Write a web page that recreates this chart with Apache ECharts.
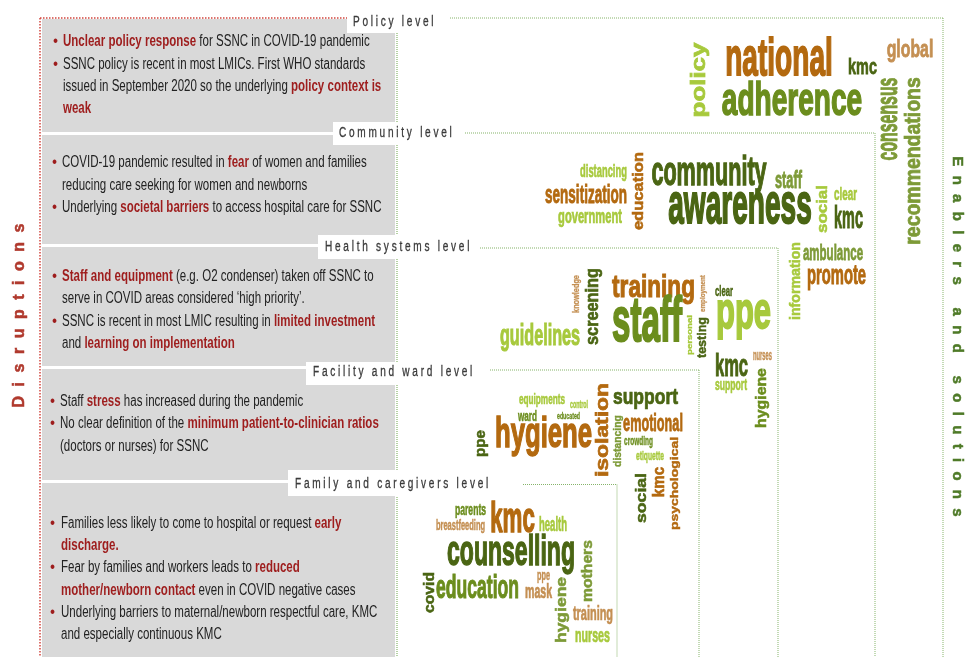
<!DOCTYPE html>
<html><head><meta charset="utf-8">
<script src="https://cdn.jsdelivr.net/npm/echarts@6/dist/echarts.min.js"></script>
<style>html,body{margin:0;padding:0;background:#fff}#c{width:967px;height:657px}</style>
</head><body><div id="c"></div>
<script>
// ---------- DATA ----------
const levelNames = ['Policy level','Community level','Health systems level','Facility and ward level','Family and caregivers level'];

const policyText = [
  '• *Unclear policy response* for SSNC in COVID-19 pandemic',
  '• SSNC policy is recent in most LMICs. First WHO standards',
  'issued in September 2020 so the underlying *policy context is*',
  '*weak*'
];
const communityText = [
  '• COVID-19 pandemic resulted in *fear* of women and families',
  'reducing care seeking for women and newborns',
  '• Underlying *societal barriers* to access hospital care for SSNC'
];
const healthText = [
  '• *Staff and equipment* (e.g. O2 condenser) taken off SSNC to',
  'serve in COVID areas considered ‘high priority’.',
  '• SSNC is recent in most LMIC resulting in *limited investment*',
  'and *learning on implementation*'
];
const facilityText = [
  '• Staff *stress* has increased during the pandemic',
  '• No clear definition of the *minimum patient-to-clinician ratios*',
  '(doctors or nurses) for SSNC'
];
const familyText = [
  '• Families less likely to come to hospital or request *early*',
  '*discharge.*',
  '• Fear by families and workers leads to *reduced*',
  '*mother/newborn contact* even in COVID negative cases',
  '• Underlying barriers to maternal/newborn respectful care, KMC',
  'and especially continuous KMC'
];

// word clouds: words and their weights (font size)
const policyWords = ['national','adherence','kmc','global','policy','consensus','recommendations'];
const policyWeights = [39,39,20,22,36,22,27];
const communityWords = ['distancing','sensitization','government','education','community','awareness','staff','social','clear','kmc','information','ambulance','promote'];
const communityWeights = [13,18.8,15.5,23,30,39,17.8,23.5,13.7,20,19.7,16,20.5];
const healthWords = ['knowledge','screening','guidelines','training','staff','employment','personal','testing','clear','ppe','nurses','kmc','support','hygiene'];
const healthWeights = [10.2,22.6,22.5,31.4,46,8.7,13.3,17.4,10.7,43,8,23,12,22];
const facilityWords = ['equipments','control','ward','educated','ppe','hygiene','isolation','support','distancing','emotional','crowding','etiquette','psychological','kmc','social'];
const facilityWeights = [11.4,7.4,11.3,7.3,21,35.7,31.8,24.3,14.4,17.6,9,9.3,19.4,21,24.5];
const familyWords = ['parents','breastfeeding','kmc','health','counselling','mothers','covid','education','ppe','mask','hygiene','training','nurses'];
const familyWeights = [12,10.4,31,13.2,32,21.8,21.8,24.4,10.2,14.7,24.3,15.2,14.8];

// ---------- LAYOUT (cloud placement in chart units: x, y, vertical, squash) ----------
const policyLayout = [[779,60.5,0,1],[792,102,0,.87],[862.5,68,0,.82],[910,50.5,0,.8],[700,80,1,.4],[889,119,1,1],[914.5,161,1,.58]];
const communityLayout = [[603.5,172.5,0,1],[586,196,0,1],[590,217,0,1],[638.5,191,1,.5],[709,173.5,0,1],[740,207,0,1.1],[788.5,181.5,0,1],[823,209,1,.45],[845.5,195,0,1],[848.5,219,0,1.18],[796,281,1,.53],[833,254.5,0,1],[836.5,276,0,1]];
const healthLayout = [[577,294,1,.6],[592.5,306.5,1,.6],[540,336.4,0,1],[653.5,288.4,0,.72],[647,323.4,0,1],[703.5,293.5,1,.6],[690,335,1,.45],[702.5,337.5,1,.55],[724,292.5,0,1],[743.5,314,0,.9],[762.5,356,0,1.3],[731.5,367,0,1],[731,386,0,1],[761.5,398,1,.5]];
const facilityLayout = [[542,400,0,1],[579,405,0,1],[527.5,417,0,1],[568.5,416.5,0,1],[481,443.5,1,.5],[543.5,435.7,0,.88],[603.5,430,1,.42],[645.5,398.6,0,.65],[618,441,1,.55],[653,424.7,0,1],[638.5,442,0,1],[650,457,0,1],[674.5,483.5,1,.45],[659,482,1,.6],[642,498,1,.42]];
const familyLayout = [[470.5,511,0,1],[460.5,526.5,0,1],[512.5,520.4,0,1],[553,525.8,0,1.1],[511,553,0,1],[588,571,1,.5],[429.5,592.5,1,.5],[477.5,588.5,0,1],[543.5,576,0,1],[538.5,593,0,1],[562,610,1,.45],[593,614,0,1],[592.5,636,0,1]];

// ---------- STYLES ----------
const palette = {dk:'#4a6513', md:'#6b8d1d', lm:'#a7c93c', or:'#b3690f', tn:'#c48f52', ol:'#7d9a37'};
const policyTones = ['or','md','dk','tn','lm','ol','ol'];
const communityTones = ['lm','or','lm','or','dk','dk','ol','lm','lm','dk','lm','ol','or'];
const healthTones = ['tn','dk','lm','or','md','tn','lm','dk','dk','lm','tn','dk','lm','md'];
const facilityTones = ['lm','lm','md','md','dk','or','or','dk','ol','or','md','lm','or','or','dk'];
const familyTones = ['md','tn','or','lm','dk','ol','dk','md','tn','tn','ol','tn','lm'];

const SX = 0.72, SY = 1.35;
const WFONT = '"Liberation Sans", Arial, sans-serif';

const allWords = [].concat(policyWords, communityWords, healthWords, facilityWords, familyWords);
const allWeights = [].concat(policyWeights, communityWeights, healthWeights, facilityWeights, familyWeights);
const allLayout = [].concat(policyLayout, communityLayout, healthLayout, facilityLayout, familyLayout);
const allTones = [].concat(policyTones, communityTones, healthTones, facilityTones, familyTones);
const cloudData = allWords.map((w, i) => [allLayout[i][0], allLayout[i][1], i]);

// ---------- helpers ----------
const mctx = document.createElement('canvas').getContext('2d');
function tw(t, font){ mctx.font = font; return mctx.measureText(t).width; }
function spacedGroup(str, font, spacing, color, o){
  const chars = [...str];
  const ws = chars.map(c => tw(c, font));
  const total = ws.reduce((a,b)=>a+b,0) + spacing*(chars.length-1);
  let cx = o.align === 'center' ? -total/2 : 0;
  const z = o.z || 4;
  const children = [];
  chars.forEach((c,i)=>{
    if (c !== ' ') children.push({type:'text', x:cx, y:0, z:z, silent:true,
      style:{text:c, font, fill:color, stroke:o.stroke||null, lineWidth:o.lw||0, align:'left', verticalAlign:'middle', textAlign:'left', textVerticalAlign:'middle'}});
    cx += ws[i] + spacing;
  });
  return {type:'group', x:o.x, y:o.y, rotation:o.rotation||0, scaleX:o.scaleX||1, z:z, children};
}

const BOX_L = 42, BOX_R = 395;
const boxes = [[19,132],[135,244],[247,366],[369,480],[483,657]];
const firstLine = [42,163,276.7,401.7,523.3];
const textX = [63,62,62,60,61];
const bulletX = [53,52,52,50,50];
const LINE_H = 22.3;
const allText = [policyText, communityText, healthText, facilityText, familyText];
const labelBoxes = [[347,11,93,22],[333,122,127,23],[318,235,160,24],[306,362,172,23],[288,470,205,26]];
const labelX = [353,339,325,313,295];
const labelY = [22.5,133.5,247,372,484];
const greenH = [[450,943,18],[465,875,133],[480,778,248],[490,699,370],[523,617,484.5]];

const RED = '#9e1d1d';
const graphics = [];
boxes.forEach(b => graphics.push({type:'rect', z:0, silent:true, shape:{x:BOX_L, y:b[0], width:BOX_R-BOX_L, height:b[1]-b[0]}, style:{fill:'#d9d9d9'}}));
// red dotted border
graphics.push({type:'line', z:1, silent:true, shape:{x1:40,y1:18,x2:348,y2:18}, style:{stroke:'#d2453e', lineWidth:1.5, lineDash:[1.5,1.5]}});
graphics.push({type:'line', z:1, silent:true, shape:{x1:40,y1:18,x2:40,y2:657}, style:{stroke:'#d2453e', lineWidth:1.5, lineDash:[1.5,1.5]}});
// green lines
const GREEN = '#86b46a';
graphics.push({type:'line', z:1, silent:true, shape:{x1:397,y1:33,x2:397,y2:657}, style:{stroke:GREEN, lineWidth:1.2, lineDash:[1,1]}});
greenH.forEach(g => {
  graphics.push({type:'line', z:1, silent:true, shape:{x1:g[0],y1:g[2],x2:g[1],y2:g[2]}, style:{stroke:GREEN, lineWidth:1, lineDash:[1,1]}});
  graphics.push({type:'line', z:1, silent:true, shape:{x1:g[1],y1:g[2],x2:g[1],y2:657}, style:{stroke:GREEN, lineWidth:1, lineDash:[1,1]}});
});
// label boxes + labels
labelBoxes.forEach((r,i) => {
  graphics.push({type:'rect', z:2, silent:true, shape:{x:r[0], y:r[1], width:r[2], height:r[3]}, style:{fill:'#ffffff'}});
  graphics.push(spacedGroup(levelNames[i], '14px "Liberation Sans", Arial, sans-serif', 3.8, '#3a3a3a', {x:labelX[i], y:labelY[i], scaleX:0.72, z:4, stroke:'#3a3a3a', lw:0.3}));
});
// box texts
allText.forEach((lines, li) => {
  lines.forEach((ln, k) => {
    const y = firstLine[li] + k*LINE_H;
    let s = ln;
    if (s.startsWith('• ')) {
      graphics.push({type:'text', z:3, silent:true, x:bulletX[li], y:y, scaleX:0.9,
        style:{text:'•', font:'16px "Liberation Sans", Arial', fill:RED, align:'left', verticalAlign:'middle', textAlign:'left', textVerticalAlign:'middle'}});
      s = s.slice(2);
    }
    const parts = s.split('*');
    let rt = '';
    parts.forEach((p, j) => { if (p.length) rt += '{' + (j % 2 ? 'r' : 'n') + '|' + p + '}'; });
    graphics.push({type:'text', z:3, silent:true, x:textX[li], y:y, scaleX:0.72,
      style:{text:rt, align:'left', verticalAlign:'middle', textAlign:'left', textVerticalAlign:'middle',
        rich:{ n:{font:'16px "Liberation Sans", Arial, sans-serif', fill:'#222222'},
               r:{font:'bold 16px "Liberation Sans", Arial, sans-serif', fill:RED} }}});
  });
});
// side titles
graphics.push(spacedGroup('Disruptions', 'bold 16px "Liberation Sans", Arial, sans-serif', 9.5, '#b0392d', {x:20, y:315.5, rotation:Math.PI/2, align:'center', stroke:'#b0392d', lw:0.5}));
graphics.push(spacedGroup('Enablers and solutions', 'bold 15px "Liberation Sans", Arial, sans-serif', 9.3, '#4e7a27', {x:957.5, y:336.5, rotation:-Math.PI/2, align:'center', stroke:'#4e7a27', lw:0.5}));

const chart = echarts.init(document.getElementById('c'), null, {renderer:'canvas'});
chart.setOption({
  animation:false,
  backgroundColor:'#ffffff',
  grid:{left:0, right:0, top:0, bottom:0},
  xAxis:{type:'value', min:0, max:967, show:false},
  yAxis:{type:'value', min:0, max:657, inverse:true, show:false},
  graphic:{elements:graphics},
  series:[{
    type:'custom', coordinateSystem:'cartesian2d', clip:false, silent:true, z:5,
    data: cloudData,
    renderItem: function(params, api){
      const i = api.value(2);
      const p = api.coord([api.value(0), api.value(1)]);
      const lay = allLayout[i];
      const col = palette[allTones[i]];
      return {type:'text', x:p[0], y:p[1], rotation: lay[2] ? Math.PI/2 : 0,
        scaleX: SX, scaleY: SY*lay[3],
        style:{text: allWords[i], font:'bold ' + allWeights[i] + 'px ' + WFONT,
          fill: col, stroke: col, lineWidth: allWeights[i]*0.035, lineJoin:'round',
          align:'center', verticalAlign:'middle', textAlign:'center', textVerticalAlign:'middle'}};
    }
  }]
});
</script></body></html>
